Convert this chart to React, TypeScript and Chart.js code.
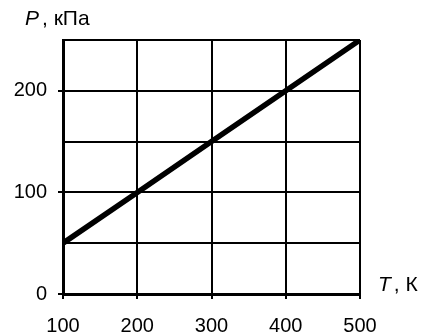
import React, { useEffect, useRef } from "react";
import { Chart, registerables } from "chart.js";

Chart.register(...registerables);

const temperatures = [100, 200, 300, 400, 500];
const pressures = [50, 100, 150, 200, 250];
const xMin = 100;
const xMax = 500;
const yMin = 0;
const yMax = 250;
const labelledY = [0, 100, 200];
const yTitleVar = "P";
const yTitleUnit = ", кПа";
const xTitleVar = "T";
const xTitleUnit = ", К";

const FONT = "'Liberation Sans', Arial, sans-serif";

const titlePlugin = {
  id: "axisTitles",
  afterDraw(chart: any) {
    const ctx = chart.ctx;
    ctx.save();
    ctx.fillStyle = "#000";
    ctx.textBaseline = "alphabetic";
    ctx.textAlign = "left";
    const draw = (v: string, u: string, x: number, y: number) => {
      ctx.font = `italic 21px ${FONT}`;
      ctx.fillText(v, x, y);
      const w = ctx.measureText(v).width + 3;
      ctx.font = `21px ${FONT}`;
      ctx.fillText(u, x + w, y);
    };
    draw(yTitleVar, yTitleUnit, 25, 25);
    draw(xTitleVar, xTitleUnit, 378, 291);
    ctx.restore();
  },
};

export default function App() {
  const ref = useRef<HTMLCanvasElement | null>(null);
  useEffect(() => {
    if (!ref.current) return;
    const chart = new Chart(ref.current, {
      type: "line",
      data: {
        datasets: [
          {
            data: temperatures.map((t, i) => ({ x: t, y: pressures[i] })),
            borderColor: "#000",
            borderWidth: 5.5,
            pointRadius: 0,
            fill: false,
            clip: 0,
            tension: 0,
          },
        ],
      },
      options: {
        animation: false,
        responsive: false,
        maintainAspectRatio: false,
        layout: { padding: { left: 0, top: 40, right: 62, bottom: 0 } },
        plugins: { legend: { display: false }, tooltip: { enabled: false }, title: { display: false } },
        scales: {
          x: {
            type: "linear",
            min: xMin,
            max: xMax,
            ticks: { stepSize: 100, color: "#000", font: { family: FONT, size: 20 }, padding: 15, maxRotation: 0 },
            grid: { color: "#000", lineWidth: 2, tickLength: 5, tickColor: "#000", tickWidth: 2 },
            border: { color: "#000", width: 3 },
            afterFit: (s: any) => { s.height = 41; },
          },
          y: {
            type: "linear",
            min: yMin,
            max: yMax,
            ticks: {
              stepSize: 50,
              color: "#000",
              font: { family: FONT, size: 20 },
              padding: 11,
              callback: (v: any) => (labelledY.includes(Number(v)) ? String(v) : ""),
            },
            grid: {
              color: "#000",
              lineWidth: 2,
              tickLength: 5,
              tickWidth: 2,
              tickColor: (c: any) => (c.tick && labelledY.includes(c.tick.value) ? "#000" : "rgba(0,0,0,0)"),
            },
            border: { color: "#000", width: 3 },
            afterFit: (s: any) => { s.width = 63; },
          },
        },
      },
      plugins: [titlePlugin],
    } as any);
    return () => chart.destroy();
  }, []);
  return (
    <div style={{ position: "absolute", left: 0, top: 0, width: 422, height: 335, background: "#fff" }}>
      <canvas ref={ref} width={422} height={335} style={{ width: 422, height: 335, display: "block" }} />
    </div>
  );
}
